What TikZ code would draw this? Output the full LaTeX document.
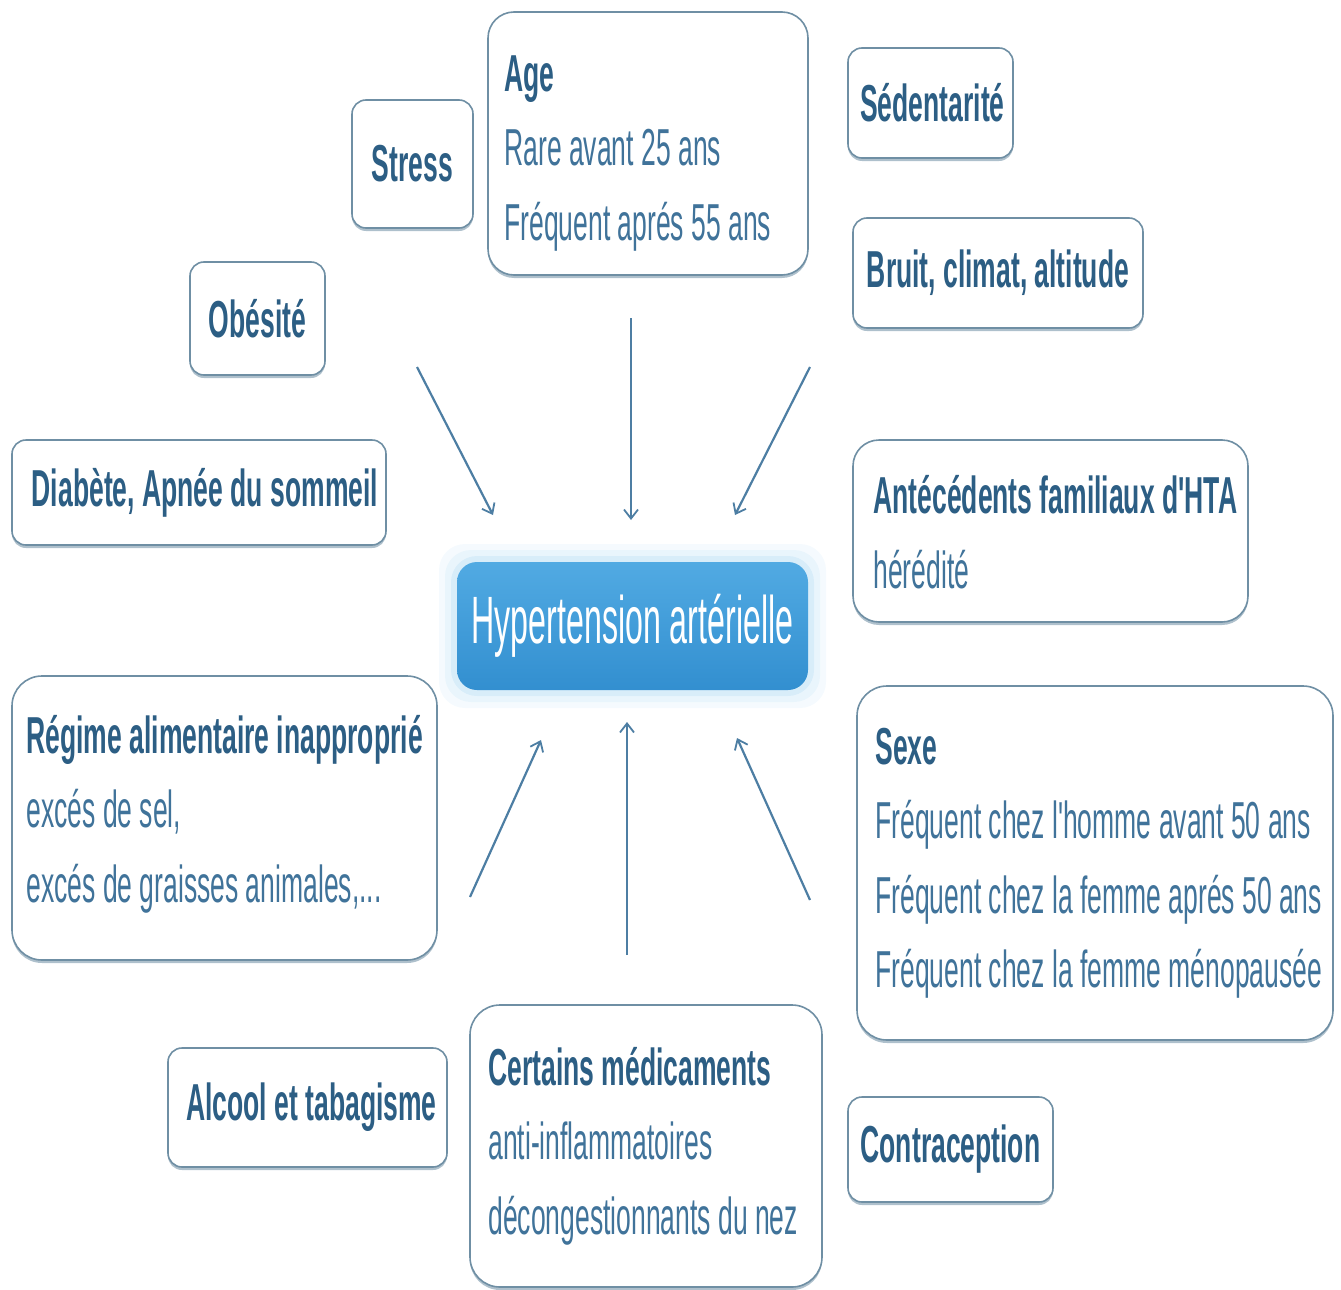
\documentclass[tikz,border=0pt]{standalone}
\usepackage{fontspec}
\setmainfont{Liberation Sans}
\newfontfamily\cf[FakeStretch=0.51]{Liberation Sans}
\newfontfamily\cfc[FakeStretch=0.48]{Liberation Sans}
\usetikzlibrary{arrows.meta,shadows}
\definecolor{hd}{HTML}{2C5E84}
\definecolor{bd}{HTML}{40739A}
\definecolor{bx}{HTML}{6F8FA4}
\definecolor{ar}{HTML}{4D7EA3}
\definecolor{c1}{HTML}{5AB2E8}
\definecolor{c2}{HTML}{2E8BCD}
\newcommand\cfreg{\cf\fontsize{52}{74.5}\selectfont}
\begin{document}
\begin{tikzpicture}[x=1pt,y=-1pt,
  fbox/.style={draw=bx, line width=1.6pt, fill=white, rounded corners=#1,
    drop shadow={shadow xshift=0pt, shadow yshift=-3pt, fill=bx!80, opacity=0.7},
    inner sep=0pt},
  fbox/.default=14pt,
  hdtxt/.style={font=\cfreg\bfseries, text=hd, inner sep=0pt},
  bodytxt/.style={font=\cfreg, text=bd, align=left, inner sep=0pt, anchor=west},
  arr/.style={draw=ar, line width=2.2pt, -{Straight Barb[length=9pt,width=14pt,line width=1.8pt]}}
]
\useasboundingbox (0,0) rectangle (1341,1290);

% central glow
\foreach \g/\o in {18/0.06,12/0.08,6/0.12}{
  \fill[c1, opacity=\o, rounded corners=26pt] (457-\g,562-\g) rectangle (808+\g,690+\g);
}
\node[minimum width=351pt, minimum height=128pt, rounded corners=20pt,
  top color=c1!80!c2, bottom color=c2!90!c1,
  inner sep=0pt, text=white, font=\cfc\fontsize{67}{74}\selectfont]
  (hta) at (632.5,626) {Hypertension artérielle};

% single-line boxes
\node[fbox, minimum width=121pt, minimum height=128pt] (stress) at (412.5,164) {};
\node[hdtxt] (stresst) at (stress.center) {Stress};

\node[fbox, minimum width=165pt, minimum height=110pt] (sed) at (930.5,103) {};
\node[hdtxt] (sedt) at ([xshift=2pt]sed.center) {Sédentarité};

\node[fbox, minimum width=290pt, minimum height=110pt] (bruit) at (998,273) {};
\node[hdtxt] (bruitt) at (bruit.center) {Bruit, climat, altitude};

\node[fbox, minimum width=135pt, minimum height=113pt] (obes) at (257.5,318.5) {};
\node[hdtxt] (obest) at (obes.center) {Obésité};

\node[fbox, minimum width=374pt, minimum height=105pt] (diab) at (199,492.5) {};
\node[hdtxt] (diabt) at ([xshift=6pt]diab.center) {Diabète, Apnée du sommeil};

\node[fbox, minimum width=279pt, minimum height=119pt] (alc) at (307.5,1107.5) {};
\node[hdtxt] (alct) at ([xshift=4pt]alc.center) {Alcool et tabagisme};

\node[fbox, minimum width=205pt, minimum height=105pt] (contra) at (950.5,1149.5) {};
\node[hdtxt] (contrat) at (contra.center) {Contraception};

% multi-line boxes
\node[fbox=26pt, minimum width=320pt, minimum height=263pt] (age) at (648,143.5) {};
\node[bodytxt] (aget) at ([xshift=17pt,yshift=-10pt]age.west)
  {{\bfseries\color{hd}Age}\\Rare avant 25 ans\\Fréquent aprés 55 ans};

\node[fbox=26pt, minimum width=395pt, minimum height=182pt] (ante) at (1050.5,531) {};
\node[bodytxt] (antet) at ([xshift=21pt,yshift=-1pt]ante.west)
  {{\bfseries\color{hd}Antécédents familiaux d'HTA}\\hérédité};

\node[fbox=30pt, minimum width=425pt, minimum height=284pt] (reg) at (224.5,818) {};
\node[bodytxt] (regt) at ([xshift=15pt,yshift=4pt]reg.west)
  {{\bfseries\color{hd}Régime alimentaire inapproprié}\\excés de sel,\\excés de graisses animales,...};

\node[fbox=30pt, minimum width=476pt, minimum height=354pt] (sexe) at (1095,863) {};
\node[bodytxt] (sexet) at ([xshift=19pt]sexe.west)
  {{\bfseries\color{hd}Sexe}\\Fréquent chez l'homme avant 50 ans\\Fréquent chez la femme aprés 50 ans\\Fréquent chez la femme ménopausée};

\node[fbox=30pt, minimum width=352pt, minimum height=282pt] (med) at (646,1146) {};
\node[bodytxt] (medt) at ([xshift=19pt]med.west)
  {{\bfseries\color{hd}Certains médicaments}\\anti-inflammatoires\\décongestionnants du nez};

% arrows
\coordinate (a1s) at (417,367); \coordinate (a1e) at (493,515);
\coordinate (a2s) at (631,318); \coordinate (a2e) at (631,520);
\coordinate (a3s) at (810,367); \coordinate (a3e) at (735,515);
\coordinate (a4s) at (470,897); \coordinate (a4e) at (541,740);
\coordinate (a5s) at (627,955); \coordinate (a5e) at (627,722);
\coordinate (a6s) at (810,900); \coordinate (a6e) at (737,738);
\foreach \i in {1,...,6}{ \draw[arr] (a\i s) -- (a\i e); }
\end{tikzpicture}
\end{document}
